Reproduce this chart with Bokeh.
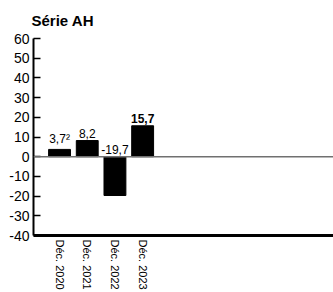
from bokeh.plotting import figure
from bokeh.models import FixedTicker, Span, Range1d, ColumnDataSource
from bokeh.core.properties import value
from bokeh.embed import file_html
from bokeh.resources import INLINE

categories = ["Déc. 2020", "Déc. 2021", "Déc. 2022", "Déc. 2023"]
values = [3.7, 8.2, -19.7, 15.7]
bar_labels = ["3,7²", "8,2", "-19,7", "15,7"]
y_ticks = [-40, -30, -20, -10, 0, 10, 20, 30, 40, 50, 60]

FONT = "Liberation Sans"

xs = list(range(len(categories)))
src = ColumnDataSource(dict(
    x=xs,
    top=values,
    ly=[max(v, 0) for v in values],
    lab=bar_labels,
    style=["normal"] * (len(values) - 1) + ["bold"],
))

p = figure(width=333, height=292, output_backend="svg", toolbar_location=None,
           x_range=Range1d(-0.94, 9.89), y_range=Range1d(-40, 60),
           min_border_left=33, min_border_right=0, min_border_top=0, min_border_bottom=0)
p.outline_line_color = None
p.xgrid.grid_line_color = None
p.ygrid.grid_line_color = None

p.title.text = "Série AH"
p.title.text_font = FONT
p.title.text_font_size = "15px"
p.title.text_font_style = "bold"
p.title.text_color = "black"
p.title.offset = -2
p.title.standoff = 19

p.vbar(x="x", top="top", bottom=0, width=0.79, source=src, color="black")
p.add_layout(Span(location=0, dimension="width", line_color="#707070", line_width=1.5))

p.text(x="x", y="ly", text="lab", source=src, text_align="center", text_baseline="bottom",
       y_offset=-3, text_font=value(FONT), text_font_size="12px",
       text_font_style="style", text_color="black")

ya = p.yaxis[0]
ya.ticker = FixedTicker(ticks=y_ticks)
ya.major_label_overrides = {t: str(t) for t in y_ticks}
ya.axis_line_width = 2
ya.axis_line_color = "black"
ya.major_tick_in = 7
ya.major_tick_out = 0
ya.major_tick_line_width = 1.5
ya.minor_tick_line_color = None
ya.major_label_text_font = FONT
ya.major_label_text_font_size = "14px"
ya.major_label_text_color = "black"
ya.major_label_standoff = 4

xa = p.xaxis[0]
xa.ticker = FixedTicker(ticks=xs)
xa.major_label_overrides = {i: c for i, c in enumerate(categories)}
xa.major_label_orientation = "vertical"
xa.axis_line_width = 3
xa.axis_line_color = "black"
xa.major_tick_in = 0
xa.major_tick_out = 0
xa.major_tick_line_color = None
xa.minor_tick_line_color = None
xa.major_label_text_font = FONT
xa.major_label_text_font_size = "11px"
xa.major_label_text_color = "black"
xa.major_label_standoff = 4

open("out.html", "w").write(file_html(p, INLINE))
